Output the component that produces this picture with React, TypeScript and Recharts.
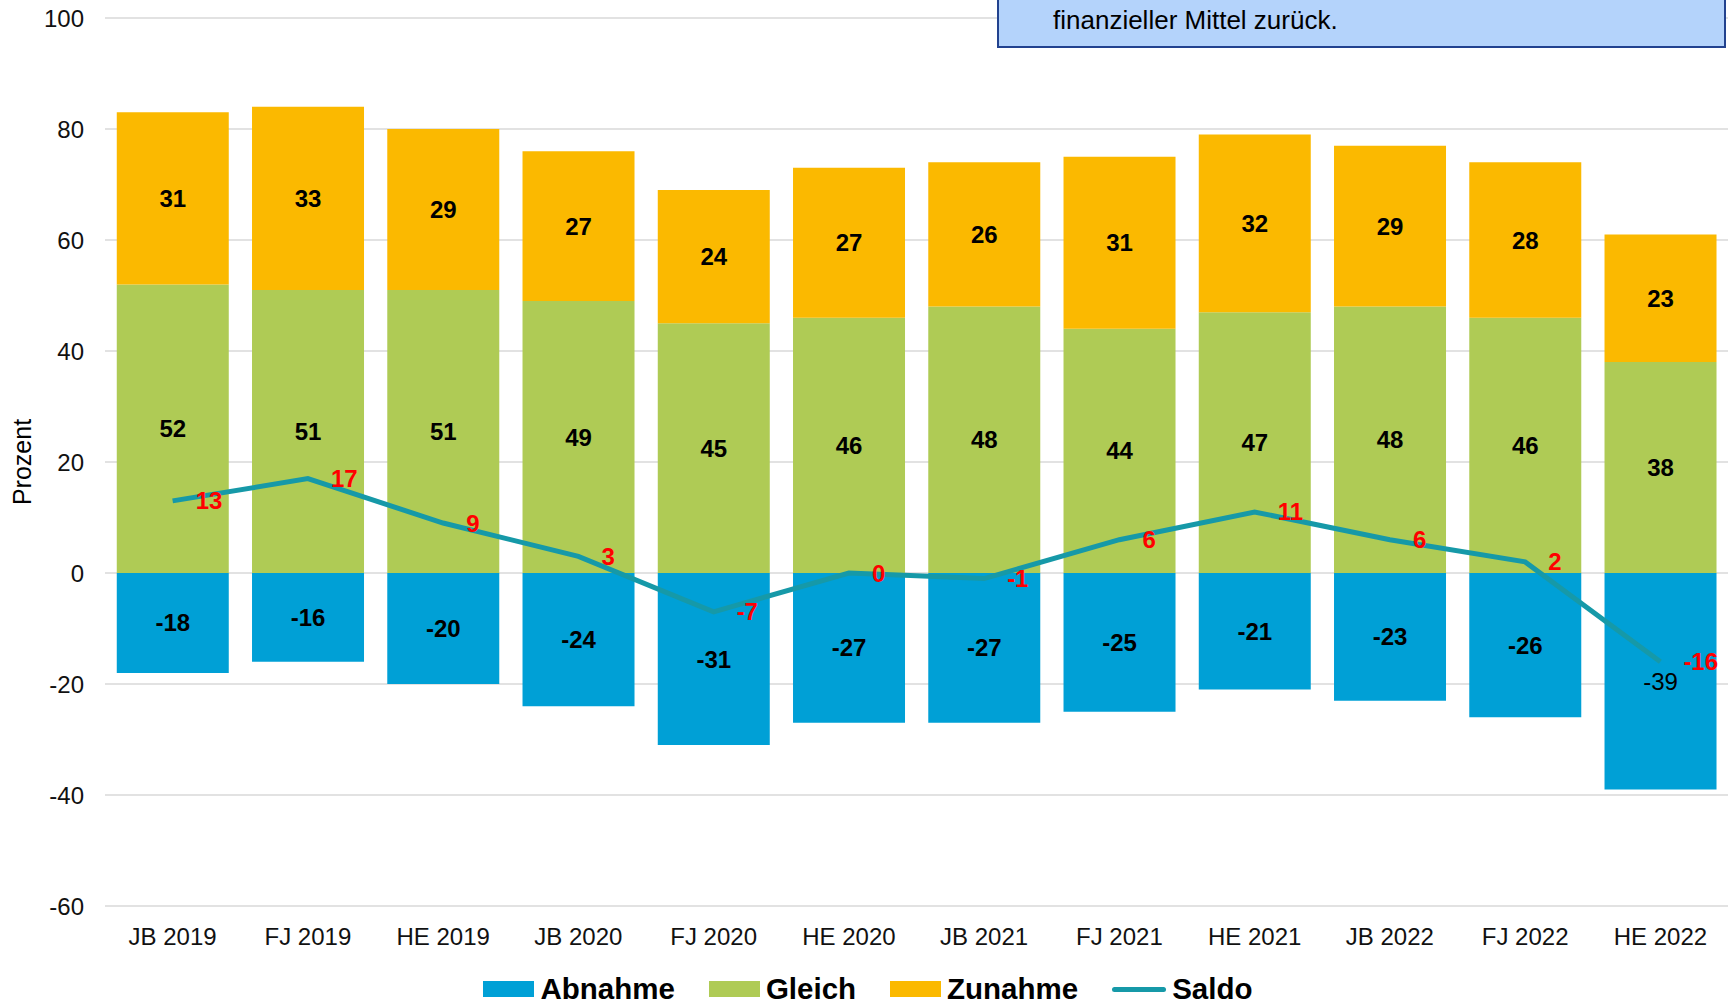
import React from "react";
import {
  ComposedChart,
  Bar,
  Line,
  XAxis,
  YAxis,
  CartesianGrid,
  Legend,
  LabelList,
} from "recharts";

const categories = [
  "JB 2019", "FJ 2019", "HE 2019", "JB 2020", "FJ 2020", "HE 2020",
  "JB 2021", "FJ 2021", "HE 2021", "JB 2022", "FJ 2022", "HE 2022",
];
const abnahme = [-18, -16, -20, -24, -31, -27, -27, -25, -21, -23, -26, -39];
const gleich = [52, 51, 51, 49, 45, 46, 48, 44, 47, 48, 46, 38];
const zunahme = [31, 33, 29, 27, 24, 27, 26, 31, 32, 29, 28, 23];
const saldo = [13, 17, 9, 3, -7, 0, -1, 6, 11, 6, 2, -16];
const yTicks = [-60, -40, -20, 0, 20, 40, 60, 80, 100];

const FONT = '"Liberation Sans", Arial, sans-serif';

const COLORS = {
  abnahme: "#00a0d6",
  gleich: "#afcb55",
  zunahme: "#fbb900",
  saldo: "#1699a8",
};

const data = categories.map((name, i) => ({
  name,
  abnahme: abnahme[i],
  gleich: gleich[i],
  zunahme: zunahme[i],
  saldo: saldo[i],
}));

// bar value in the middle of the segment; the last Abnahme label is not bold in the original
const BarValue = (props: any) => {
  const { x, y, width, height, value, index, light } = props;
  return (
    <text
      x={x + width / 2}
      y={y + height / 2}
      textAnchor="middle"
      dominantBaseline="central"
      fontFamily={FONT}
      fontSize={24}
      fontWeight={light && index === categories.length - 1 ? "normal" : "bold"}
      fill="#000"
    >
      {value}
    </text>
  );
};

const SaldoValue = (props: any) => {
  const { x, y, value } = props;
  return (
    <text
      x={x + 23}
      y={y}
      textAnchor="start"
      dominantBaseline="central"
      fontFamily={FONT}
      fontSize={24}
      fontWeight="bold"
      fill="#ff0000"
    >
      {value}
    </text>
  );
};

const ProzentLabel = () => (
  <text
    x={22}
    y={462}
    transform="rotate(-90, 22, 462)"
    textAnchor="middle"
    dominantBaseline="central"
    fontFamily={FONT}
    fontSize={25}
    fill="#000"
  >
    Prozent
  </text>
);

const legendItems = [
  { label: "Abnahme", color: COLORS.abnahme, line: false },
  { label: "Gleich", color: COLORS.gleich, line: false },
  { label: "Zunahme", color: COLORS.zunahme, line: false },
  { label: "Saldo", color: COLORS.saldo, line: true },
];

const LegendBox = () => (
  <div
    style={{
      display: "flex",
      justifyContent: "center",
      alignItems: "center",
      height: 46,
      paddingTop: 20,
      paddingLeft: 8,
      boxSizing: "border-box",
      fontFamily: FONT,
      fontWeight: "bold",
      fontSize: 29.5,
      color: "#000",
    }}
  >
    {legendItems.map((it, i) => (
      <div
        key={it.label}
        style={{ display: "flex", alignItems: "center", marginLeft: i === 0 ? 0 : 34 }}
      >
        {it.line ? (
          <div style={{ width: 54, height: 5, borderRadius: 3, background: it.color }} />
        ) : (
          <div style={{ width: 51, height: 16, background: it.color }} />
        )}
        <span style={{ marginLeft: 6 }}>{it.label}</span>
      </div>
    ))}
  </div>
);

export default function App() {
  return (
    <div style={{ position: "absolute", left: 0, top: 0, width: 1731, height: 1002, background: "#fff" }}>
      <ComposedChart
        width={1731}
        height={1002}
        data={data}
        stackOffset="sign"
        barCategoryGap="8.7%"
        margin={{ top: 18, right: 3, bottom: 0, left: 0 }}
      >
        <CartesianGrid vertical={false} stroke="#d9d9d9" strokeWidth={1.5} />
        <XAxis
          dataKey="name"
          axisLine={false}
          tickLine={false}
          tickMargin={16}
          height={50}
          tick={{ fontFamily: FONT, fontSize: 24, fill: "#111" }}
        />
        <YAxis
          domain={[-60, 100]}
          ticks={yTicks}
          interval={0}
          width={105}
          axisLine={false}
          tickLine={false}
          tickMargin={15}
          tick={{ fontFamily: FONT, fontSize: 24, fill: "#111" }}
          label={<ProzentLabel />}
        />
        <Legend verticalAlign="bottom" height={46} content={<LegendBox />} />
        <Bar dataKey="abnahme" stackId="s" fill={COLORS.abnahme} isAnimationActive={false}>
          <LabelList dataKey="abnahme" content={<BarValue light />} />
        </Bar>
        <Bar dataKey="gleich" stackId="s" fill={COLORS.gleich} isAnimationActive={false}>
          <LabelList dataKey="gleich" content={<BarValue />} />
        </Bar>
        <Bar dataKey="zunahme" stackId="s" fill={COLORS.zunahme} isAnimationActive={false}>
          <LabelList dataKey="zunahme" content={<BarValue />} />
        </Bar>
        <Line
          dataKey="saldo"
          stroke={COLORS.saldo}
          strokeWidth={5}
          dot={false}
          activeDot={false}
          isAnimationActive={false}
        >
          <LabelList dataKey="saldo" content={<SaldoValue />} />
        </Line>
      </ComposedChart>
      <div
        style={{
          position: "absolute",
          left: 997,
          top: -40,
          width: 729,
          height: 88,
          boxSizing: "border-box",
          background: "#b4d3fb",
          border: "2px solid #22428f",
          fontFamily: FONT,
          fontSize: 26,
          color: "#000",
        }}
      >
        <div style={{ position: "absolute", left: 54, top: 43 }}>finanzieller Mittel zurück.</div>
      </div>
    </div>
  );
}
